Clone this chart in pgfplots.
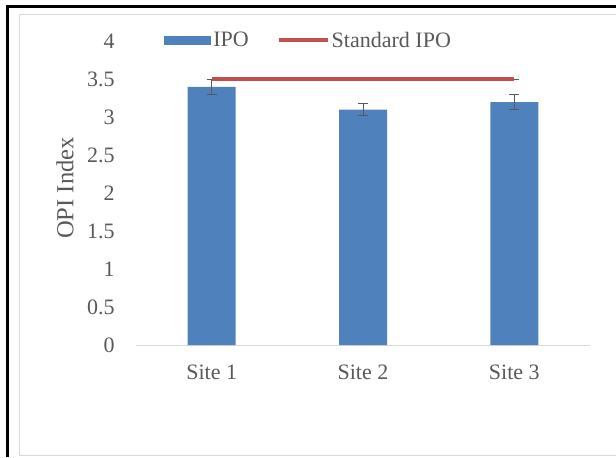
\documentclass[border=0pt]{standalone}
\usepackage{fontspec}
\setmainfont{Liberation Serif}
\usepackage{pgfplots}
\pgfplotsset{compat=1.18}
\definecolor{ipoblue}{HTML}{4F81BD}
\definecolor{stdred}{HTML}{C0504D}
\definecolor{txtgrey}{HTML}{595959}
\definecolor{axgrey}{HTML}{D9D9D9}
\definecolor{errgrey}{HTML}{595959}

\begin{document}
\begin{tikzpicture}
\path[use as bounding box] (0,0) rectangle (462pt,342.75pt);
% chart area frames
\draw[axgrey, line width=0.75pt] (462pt,331.5pt) -- (14.25pt,331.5pt) -- (14.25pt,1.5pt) -- (462pt,1.5pt);
\draw[black, line width=2.25pt] (462pt,337.5pt) -- (5.25pt,337.5pt) -- (5.25pt,0pt);

\begin{axis}[
  at={(102pt,84pt)}, anchor=south west,
  width=340.5pt, height=227.7pt, scale only axis,
  xmin=-0.5, xmax=2.5, ymin=0, ymax=4,
  clip=false,
  axis line style={draw=none},
  major tick length=0pt,
  xtick={0,1,2}, xticklabels={Site 1, Site 2, Site 3},
  ytick={0,0.5,1,1.5,2,2.5,3,3.5,4},
  /pgf/number format/assume math mode=true,
  ticklabel style={font=\fontsize{16.5}{18}\selectfont, text=txtgrey},
  xticklabel style={inner sep=0pt, anchor=north, yshift=-15pt},
  yticklabel style={inner sep=0pt, anchor=east, xshift=-15.75pt},
  ylabel={OPI Index},
  every axis y label/.style={at={(axis description cs:-0.1564,0.517)}, rotate=90,
    anchor=center, font=\fontsize{18.4}{20}\selectfont, text=txtgrey},
  legend columns=2,
  legend style={draw=none, fill=none, inner sep=0pt, at={(0.0617,1.003)}, anchor=west,
    font=\fontsize{16.5}{18}\selectfont, text=txtgrey,
    nodes={inner sep=1.5pt},
    /tikz/every even column/.append style={column sep=19.5pt}},
]
\draw[axgrey, line width=0.75pt] (axis cs:-0.5,0) -- (axis cs:2.5,0);

% IPO bars with error bars
\addplot[ybar, bar width=36pt, fill=ipoblue, draw=none,
  legend image code/.code={\fill[ipoblue] (0pt,-3.375pt) rectangle (35.25pt,3.375pt);},
  error bars/.cd, y dir=both, y explicit,
  error bar style={line width=0.75pt, color=errgrey},
  error mark options={rotate=90, mark size=3.75pt, line width=0.75pt, color=errgrey}]
  coordinates {(0,3.4) +- (0,0.095) (1,3.1) +- (0,0.08) (2,3.2) +- (0,0.095)};
\addlegendentry{IPO}

% cap at the end of the standard line
\addplot[draw=none, forget plot,
  error bars/.cd, y dir=both, y explicit,
  error mark options={rotate=90, mark size=3.75pt, line width=0.75pt, color=errgrey}]
  coordinates {(2,3.5) +- (0,0)};

% standard IPO
\addplot[stdred, line width=3pt,
  legend image code/.code={\draw[stdred, line width=3pt] (0pt,0pt) -- (36.75pt,0pt);}]
  coordinates {(0,3.5) (2,3.5)};
\addlegendentry{Standard IPO}
\end{axis}
\end{tikzpicture}
\end{document}
